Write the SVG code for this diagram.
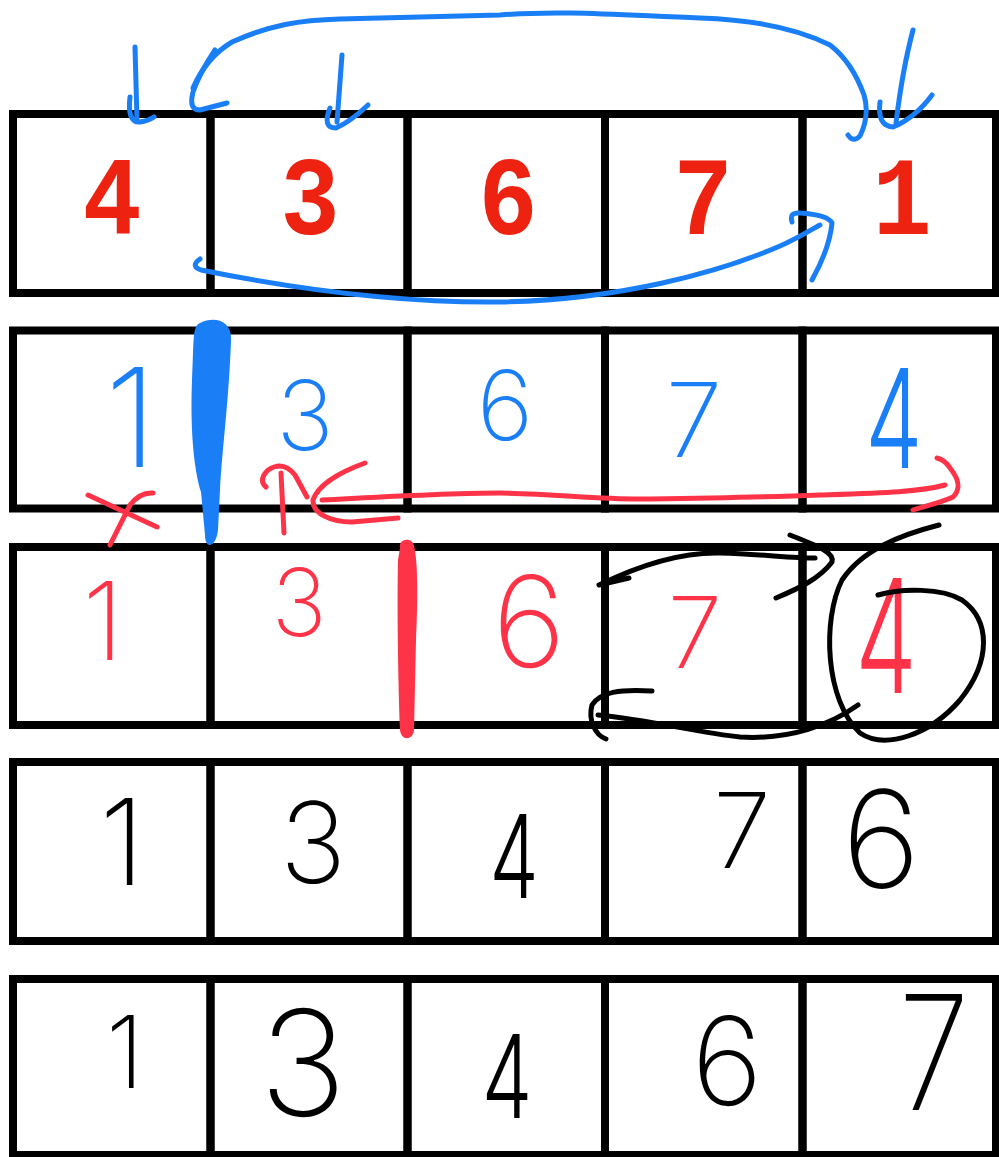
<svg xmlns="http://www.w3.org/2000/svg" width="999" height="1157" viewBox="0 0 999 1157">
<style>
.cell{fill:none;stroke:#000;stroke-width:8}
.big{font-family:"Liberation Mono","DejaVu Sans Mono",monospace;font-weight:bold;fill:#EE2211;text-anchor:middle}
.hw{font-family:Inter,"Open Sans",Lato,sans-serif;font-weight:200;text-anchor:middle}
.nw{font-weight:300}
.tb{fill:#1A7FF7}.tr{fill:#FF3347}.tk{fill:#000}
.sb{fill:none;stroke:#1A7FF7;stroke-width:5;stroke-linecap:round;stroke-linejoin:round}
.sr{fill:none;stroke:#FF3347;stroke-width:5;stroke-linecap:round;stroke-linejoin:round}
.sk{fill:none;stroke:#000;stroke-width:5;stroke-linecap:round;stroke-linejoin:round}
</style>
<rect width="999" height="1157" fill="#fff"/>
<g id="row1">
<g id="r1c1"><rect class="cell" x="13" y="114" width="197.5" height="179"/><text class="big" transform="translate(112,234) scale(0.88,1)" font-size="112">4</text></g>
<g id="r1c2"><rect class="cell" x="210.5" y="114" width="197" height="179"/><text class="big" transform="translate(310,234) scale(0.88,1)" font-size="112">3</text></g>
<g id="r1c3"><rect class="cell" x="407.5" y="114" width="197.5" height="179"/><text class="big" transform="translate(508,234) scale(0.88,1)" font-size="112">6</text></g>
<g id="r1c4"><rect class="cell" x="605" y="114" width="197.5" height="179"/><text class="big" transform="translate(703,234) scale(0.88,1)" font-size="112">7</text></g>
<g id="r1c5"><rect class="cell" x="802.5" y="114" width="193.5" height="179"/><text class="big" transform="translate(902,234) scale(0.88,1)" font-size="112">1</text></g>
</g>
<g id="row2">
<g id="r2c1"><rect class="cell" x="13" y="330.5" width="197.5" height="178"/><text class="hw tb" x="131" y="467" font-size="138">1</text></g>
<g id="r2c2"><rect class="cell" x="210.5" y="330.5" width="197" height="178"/><text class="hw tb" x="305" y="450" font-size="97">3</text></g>
<g id="r2c3"><rect class="cell" x="407.5" y="330.5" width="197.5" height="178"/><text class="hw tb" x="505" y="440" font-size="97">6</text></g>
<g id="r2c4"><rect class="cell" x="605" y="330.5" width="197.5" height="178"/><text class="hw tb" x="694" y="457" font-size="103">7</text></g>
<g id="r2c5"><rect class="cell" x="802.5" y="330.5" width="193.5" height="178"/><text class="hw nw tb" transform="translate(894,468) scale(0.66,1)" font-size="138">4</text></g>
</g>
<g id="row3">
<g id="r3c1"><rect class="cell" x="13" y="547" width="197.5" height="178"/><text class="hw tr" x="103" y="660" font-size="108">1</text></g>
<g id="r3c2"><rect class="cell" x="210.5" y="547" width="197" height="178"/><text class="hw tr" x="299" y="636" font-size="93">3</text></g>
<g id="r3c3"><rect class="cell" x="407.5" y="547" width="197.5" height="178"/><text class="hw tr" x="529" y="667" font-size="126">6</text></g>
<g id="r3c4"><rect class="cell" x="605" y="547" width="197.5" height="178"/><text class="hw tr" x="695" y="668" font-size="99">7</text></g>
<g id="r3c5"><rect class="cell" x="802.5" y="547" width="193.5" height="178"/><text class="hw nw tr" transform="translate(886,693) scale(0.62,1)" font-size="158">4</text></g>
</g>
<g id="row4">
<g id="r4c1"><rect class="cell" x="13" y="762" width="197.5" height="179"/><text class="hw tk" x="122" y="885" font-size="120">1</text></g>
<g id="r4c2"><rect class="cell" x="210.5" y="762" width="197" height="179"/><text class="hw tk" x="313" y="883" font-size="112">3</text></g>
<g id="r4c3"><rect class="cell" x="407.5" y="762" width="197.5" height="179"/><text class="hw nw tk" transform="translate(514,898) scale(0.68,1)" font-size="115">4</text></g>
<g id="r4c4"><rect class="cell" x="605" y="762" width="197.5" height="179"/><text class="hw tk" x="742" y="868" font-size="105">7</text></g>
<g id="r4c5"><rect class="cell" x="802.5" y="762" width="193.5" height="179"/><text class="hw tk" x="881" y="888" font-size="135">6</text></g>
</g>
<g id="row5">
<g id="r5c1"><rect class="cell" x="13" y="979" width="197.5" height="176"/><text class="hw tk" x="125" y="1088" font-size="101">1</text></g>
<g id="r5c2"><rect class="cell" x="210.5" y="979" width="197" height="176"/><text class="hw tk" x="303" y="1116" font-size="147">3</text></g>
<g id="r5c3"><rect class="cell" x="407.5" y="979" width="197.5" height="176"/><text class="hw nw tk" transform="translate(507,1118) scale(0.7,1)" font-size="115">4</text></g>
<g id="r5c4"><rect class="cell" x="605" y="979" width="197.5" height="176"/><text class="hw tk" x="727" y="1105" font-size="122">6</text></g>
<g id="r5c5"><rect class="cell" x="802.5" y="979" width="193.5" height="176"/><text class="hw tk" transform="translate(934,1110) scale(0.8,1)" font-size="160">7</text></g>
</g>
<g id="connectors">
<path class="sb" d="M135,47 L137,120 M130,97 Q127,123 140,122 Q148,121 154,117"/>
<path class="sb" d="M342,55 L337,122 M330,108 Q322,128 336,128 Q350,122 368,105"/>
<path class="sb" d="M913,30 C905,60 900,90 896,123 M880,102 Q877,126 893,127 Q915,118 932,95"/>
<path class="sb" d="M848,135 Q853,143 860,136 Q870,115 864,95 Q852,62 830,45 C800,30 760,20 700,18 C620,15 560,10 500,15 L340,19 C300,20 270,25 232,42 C212,54 200,72 193,88"/>
<path class="sb" d="M215,50 C205,65 197,80 193,92 C190,104 192,110 200,110 L227,103"/>
<path class="sb" d="M200,259 Q190,266 201,270 C300,290 400,303 500,302 C620,300 720,272 780,246 C800,237 812,229 820,225"/>
<path class="sb" d="M792,222 Q789,212 800,213 C815,214 829,217 832,223 C830,244 822,262 812,280"/>
<path fill="#1A7FF7" d="M200,323 C214,316 232,320 231,340 C229,400 222,450 220,490 L218,530 C216,548 205,550 205,535 L201,492 C194,470 190,430 192,380 C194,342 192,326 200,323Z"/>
<path class="sr" d="M88,495 L157,527 M153,493 Q140,492 130,505 L110,545"/>
<path class="sr" d="M284,533 L281,473 M266,487 Q258,480 268,470 Q283,460 295,475 L307,497"/>
<path class="sr" d="M365,463 C340,472 318,485 313,500 C312,513 330,522 352,522 L398,518"/>
<path class="sr" d="M322,500 C400,496 450,493 500,493 C560,494 600,500 650,499 C720,498 770,497 820,495 C880,493 920,492 945,485"/>
<path class="sr" d="M937,458 Q945,460 950,468 C958,478 962,488 953,497 C940,503 925,506 913,510"/>
<path fill="#FF3347" d="M400,548 C398,538 413,537 414,546 C418,562 418,600 416,640 L414,730 C413,741 401,741 400,730 C398,680 397,600 398,560Z"/>
<path class="sk" d="M599,585 L629,578 M599,585 C640,565 680,552 720,553 C760,554 790,558 815,558"/>
<path class="sk" d="M790,535 C815,545 835,552 832,562 C820,578 800,588 776,598"/>
<path class="sk" d="M939,525 C900,535 862,550 842,580 C822,620 825,700 860,733 C885,750 930,735 960,700 C992,660 990,620 962,600 C942,588 902,588 878,595"/>
<path class="sk" d="M858,705 C830,725 790,740 740,737 C700,733 650,720 598,715"/>
<path class="sk" d="M652,691 C620,689 600,692 592,705 C588,720 595,735 606,739"/>
</g>
</svg>
